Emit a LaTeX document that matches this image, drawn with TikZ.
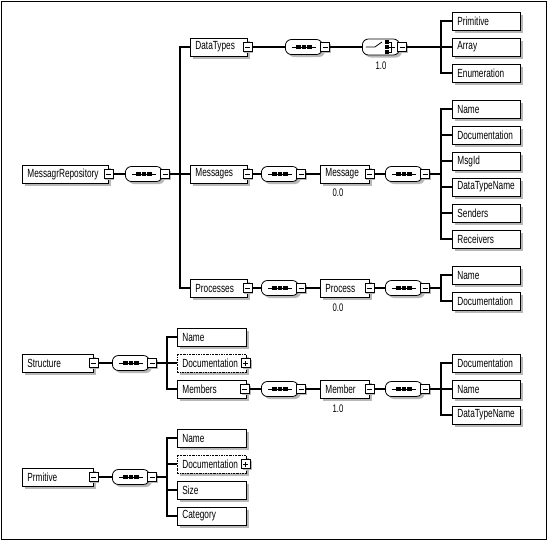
\documentclass[tikz,border=0pt]{standalone}
\usepackage{fontspec}
\setmainfont{Liberation Sans}[FakeStretch=0.7]
\usetikzlibrary{shadows,calc}
\tikzset{
  shd/.style={drop shadow={shadow xshift=2.5pt, shadow yshift=-2.5pt, fill=black!28, opacity=1}},
  elem/.style={draw, fill=white, line width=0.8pt, minimum height=18pt, inner xsep=5pt, inner ysep=0pt,
    text width=#1, align=left, anchor=west, font=\fontsize{11.8}{12}\selectfont, shd},
  elemopt/.style={elem=#1, dash pattern=on 2pt off 1pt on 0.6pt off 1pt},
  mbox/.style={draw, fill=white, line width=0.6pt, minimum size=9pt, inner sep=0pt,
    drop shadow={shadow xshift=1.5pt, shadow yshift=-1.5pt, fill=black!28, opacity=1},
    path picture={\draw[line width=0.7pt] ($(path picture bounding box.center)+(-2.5,0)$) -- ($(path picture bounding box.center)+(2.5,0)$);}},
  pbox/.style={mbox,
    path picture={\draw[line width=0.7pt] ($(path picture bounding box.center)+(-2.5,0)$) -- ($(path picture bounding box.center)+(2.5,0)$);
      \draw[line width=0.7pt] ($(path picture bounding box.center)+(0,-2.5)$) -- ($(path picture bounding box.center)+(0,2.5)$);}},
  seqbox/.style={draw, fill=white, line width=0.8pt, rounded corners=6pt, minimum width=37pt,
    minimum height=15pt, inner sep=0pt, anchor=west, shd},
  conn/.style={line width=1.2pt, line join=miter},
  lbl/.style={font=\fontsize{11}{11}\selectfont, inner sep=0pt}
}
\newcommand\seqmark[1]{%
  \draw[line width=0.8pt] ($(#1.center)+(-12,0)$) -- ($(#1.center)+(12,0)$);
  \foreach \d in {-5.5,0,5.5}{\fill ($(#1.center)+(\d-2.1,-2.1)$) rectangle ($(#1.center)+(\d+2.1,2.1)$);}}
\newcommand\choicemark[1]{%
  \draw[line width=0.8pt] ($(#1.center)+(-15,0)$) -- ($(#1.center)+(-6,0)$) -- ($(#1.center)+(1,-5)$);
  \foreach \d in {-5,0,5}{\fill ($(#1.center)+(4,\d-1.9)$) rectangle ($(#1.center)+(7.8,\d+1.9)$);}
  \draw[line width=0.8pt] ($(#1.center)+(6,-5)$) -- ($(#1.center)+(10.5,-5)$) -- ($(#1.center)+(10.5,5)$) -- ($(#1.center)+(6,5)$);
  \draw[line width=0.8pt] ($(#1.center)+(6,0)$) -- ($(#1.center)+(14,0)$);}
% sequence with its minus box
\newcommand\seqat[3]{% name, x-left, y
  \node[seqbox] (#1) at (#2,#3) {};
  \node[mbox] (#1m) at ($(#1.west)+(40,0)$) {};
  \seqmark{#1}}
\begin{document}
\begin{tikzpicture}[x=1pt,y=-1pt]
\useasboundingbox (0,0) rectangle (549,541);
\draw[line width=1pt] (1.5,1.5) rectangle (546,539.5);

% trunk coordinates
\coordinate (t0) at (180,174);
\coordinate (tdt) at (441,47);
\coordinate (tmsg) at (441,174);
\coordinate (tproc) at (441,288);
\coordinate (tstr) at (167,363);
\coordinate (tmem) at (441,389);
\coordinate (tprim) at (167,477);

% ---------- root ----------
\node[elem=76pt] (mr) at (22,174) {MessagrRepository};
\node[mbox] (mrm) at ($(mr.east)+(-0.5,0)$) {};
\seqat{s1}{125}{174}
\draw[conn] (mrm.east) -- (s1.west);
\draw[conn] (s1m.east) -- (t0);

% ---------- DataTypes ----------
\node[elem=47pt] (dt) at (190,47) {DataTypes};
\node[mbox] (dtm) at ($(dt.east)+(-0.5,0)$) {};
\node[elem=47pt] (msgs) at (190,174) {Messages};
\node[mbox] (msgsm) at ($(msgs.east)+(-0.5,0)$) {};
\node[elem=47pt] (procs) at (190,288) {Processes};
\node[mbox] (procsm) at ($(procs.east)+(-0.5,0)$) {};
\draw[conn] (dt.west) -| (t0) |- (procs.west);
\draw[conn] (t0) -- (msgs.west);

\seqat{sdt}{285}{47}
\node[seqbox, minimum height=16pt] (ch) at (362,47) {};
\node[mbox] (chm) at ($(ch.west)+(40,0)$) {};
\choicemark{ch}
\node[lbl] (l1) at (381,66) {1.0};
\draw[conn] (dtm.east) -- (sdt.west);
\draw[conn] (sdtm.east) -- (ch.west);
\draw[conn] (chm.east) -- (tdt);
\node[elem=58pt] (dprim) at (452,21) {Primitive};
\node[elem=58pt] (darr) at (452,47) {Array};
\node[elem=58pt] (denum) at (452,73) {Enumeration};
\draw[conn] (dprim.west) -| (tdt) |- (denum.west);
\draw[conn] (tdt) -- (darr.west);

% ---------- Messages ----------
\seqat{smsgs}{261}{174}
\node[elem=39pt] (msg) at (320,174) {Message};
\node[mbox] (msgm) at ($(msg.east)+(-0.5,0)$) {};
\node[lbl] (l2) at (338,193) {0.0};
\seqat{smsg}{385}{174}
\draw[conn] (msgsm.east) -- (smsgs.west);
\draw[conn] (smsgsm.east) -- (msg.west);
\draw[conn] (msgm.east) -- (smsg.west);
\draw[conn] (smsgm.east) -- (tmsg);
\node[elem=58pt] (mc1) at (452,109) {Name};
\node[elem=58pt] (mc2) at (452,135) {Documentation};
\node[elem=58pt] (mc3) at (452,161) {MsgId};
\node[elem=58pt] (mc4) at (452,187) {DataTypeName};
\node[elem=58pt] (mc5) at (452,213) {Senders};
\node[elem=58pt] (mc6) at (452,239) {Receivers};
\draw[conn] (mc1.west) -| (tmsg) |- (mc6.west);
\foreach \k in {2,...,5}{\draw[conn] (tmsg |- mc\k.west) -- (mc\k.west);}

% ---------- Processes ----------
\seqat{sprocs}{261}{288}
\node[elem=39pt] (proc) at (320,288) {Process};
\node[mbox] (procm) at ($(proc.east)+(-0.5,0)$) {};
\node[lbl] (l3) at (338,308) {0.0};
\seqat{sproc}{385}{288}
\draw[conn] (procsm.east) -- (sprocs.west);
\draw[conn] (sprocsm.east) -- (proc.west);
\draw[conn] (procm.east) -- (sproc.west);
\draw[conn] (sprocm.east) -- (tproc);
\node[elem=58pt] (pc1) at (452,275) {Name};
\node[elem=58pt] (pc2) at (452,301) {Documentation};
\draw[conn] (pc1.west) -| (tproc) |- (pc2.west);

% ---------- Structure ----------
\node[elem=61pt] (str) at (22,363) {Structure};
\node[mbox] (strm) at ($(str.east)+(-0.5,0)$) {};
\seqat{sstr}{112}{363}
\draw[conn] (strm.east) -- (sstr.west);
\draw[conn] (sstrm.east) -- (tstr);
\node[elem=59pt] (sc1) at (177,337) {Name};
\node[elemopt=59pt] (sc2) at (177,363) {Documentation};
\node[pbox] (sc2p) at ($(sc2.east)+(-1,0)$) {};
\node[elem=59pt] (mem) at (177,389) {Members};
\node[mbox] (memm) at ($(mem.east)+(-2,0)$) {};
\draw[conn] (sc1.west) -| (tstr) |- (mem.west);
\draw[conn] (tstr) -- (sc2.west);
\seqat{smems}{261}{389}
\node[elem=39pt] (memb) at (320,389) {Member};
\node[mbox] (membm) at ($(memb.east)+(-0.5,0)$) {};
\node[lbl] (l4) at (338,409) {1.0};
\seqat{smemb}{385}{389}
\draw[conn] (memm.east) -- (smems.west);
\draw[conn] (smemsm.east) -- (memb.west);
\draw[conn] (membm.east) -- (smemb.west);
\draw[conn] (smembm.east) -- (tmem);
\node[elem=58pt] (bc1) at (452,363) {Documentation};
\node[elem=58pt] (bc2) at (452,389) {Name};
\node[elem=58pt] (bc3) at (452,415) {DataTypeName};
\draw[conn] (bc1.west) -| (tmem) |- (bc3.west);
\draw[conn] (tmem) -- (bc2.west);

% ---------- Prmitive ----------
\node[elem=61pt] (prm) at (22,477) {Prmitive};
\node[mbox] (prmm) at ($(prm.east)+(-0.5,0)$) {};
\seqat{sprm}{112}{477}
\draw[conn] (prmm.east) -- (sprm.west);
\draw[conn] (sprmm.east) -- (tprim);
\node[elem=59pt] (rc1) at (177,438) {Name};
\node[elemopt=59pt] (rc2) at (177,464) {Documentation};
\node[pbox] (rc2p) at ($(rc2.east)+(-1,0)$) {};
\node[elem=59pt] (rc3) at (177,490) {Size};
\node[elem=59pt] (rc4) at (177,516) {Category};
\draw[conn] (rc1.west) -| (tprim) |- (rc4.west);
\draw[conn] (tprim |- rc2.west) -- (rc2.west);
\draw[conn] (tprim |- rc3.west) -- (rc3.west);
\end{tikzpicture}
\end{document}
